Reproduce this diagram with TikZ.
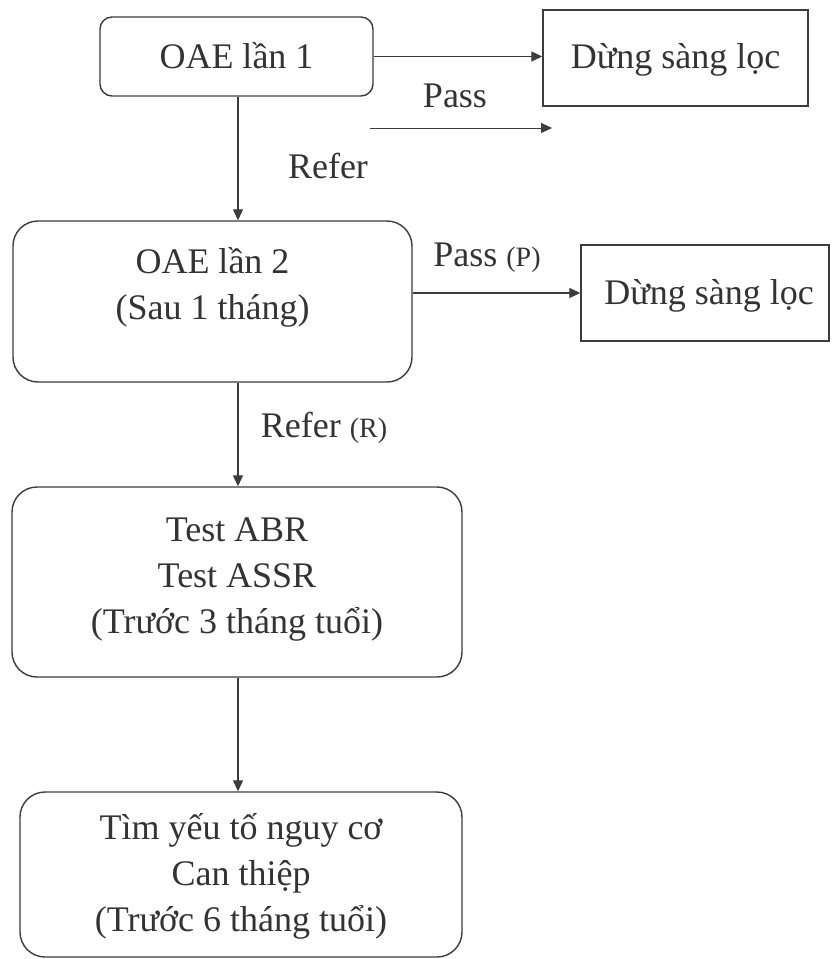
\documentclass[tikz,border=0pt]{standalone}
\usepackage{fontspec}
\setmainfont{Liberation Serif}
\usetikzlibrary{arrows.meta}
\definecolor{ink}{HTML}{333333}
\definecolor{linec}{HTML}{3C3C3C}
\newcommand\smallpar[1]{{\fontsize{28}{30}\selectfont #1}}
\begin{document}
\begin{tikzpicture}[x=1pt,y=-1pt,
  txt/.style={text=ink,font=\fontsize{36}{46}\selectfont,align=center,inner sep=0pt},
  rbox/.style={draw=linec,line width=1.4pt,rounded corners=25pt,inner sep=0pt},
  sbox/.style={draw=linec,line width=1.4pt,inner sep=0pt},
  arr/.style={draw=linec,line width=1.2pt,-{Triangle[length=11pt,width=10pt]}}]
\useasboundingbox[fill=white] (0,0) rectangle (831,959);
% boxes
\node[rbox,rounded corners=12pt,minimum width=273pt,minimum height=79pt] (oae1) at (236.5,56.5) {};
\node[txt] (oae1t) at (236.5,56) {OAE lần 1};
\node[sbox,minimum width=265pt,minimum height=96pt] (stop1) at (675.5,58) {};
\node[txt] (stop1t) at (675.5,60) {Dừng sàng lọc};
\node[rbox,minimum width=399pt,minimum height=161pt] (oae2) at (212.5,301.5) {};
\node[txt] (oae2t) at (212.5,287) {OAE lần 2\\(Sau 1 tháng)};
\node[sbox,minimum width=248pt,minimum height=96pt] (stop2) at (705,293) {};
\node[txt] (stop2t) at (709,296) {Dừng sàng lọc};
\node[rbox,minimum width=450pt,minimum height=190pt] (test) at (237,582) {};
\node[txt] (testt) at (237,579) {Test ABR\\Test ASSR\\(Trước 3 tháng tuổi)};
\node[rbox,minimum width=442pt,minimum height=165pt] (final) at (241,874.5) {};
\node[txt] (finalt) at (241,876) {Tìm yếu tố nguy cơ\\Can thiệp\\(Trước 6 tháng tuổi)};
% column coordinate
\coordinate (colx) at (238,0);
\coordinate (p0) at (370,128);
\coordinate (p1) at (552,128);
% connectors
\draw[arr] (oae1.east) -- (oae1.east -| stop1.west);
\draw[arr,line width=0.9pt] (p0) -- (p1);
\node[txt] (passl) at (455,96) {Pass};
\draw[arr] (oae1.south -| colx) -- (oae2.north -| colx);
\node[txt] (referl) at (328,166) {Refer};
\draw[arr] (stop2.west -| oae2.east) -- (stop2.west);
\node[txt] (passpl) at (487,258) {Pass \smallpar{(P)}};
\draw[arr] (oae2.south -| colx) -- (test.north -| colx);
\node[txt] (referrl) at (324,428) {Refer \smallpar{(R)}};
\draw[arr] (test.south -| colx) -- (final.north -| colx);
\end{tikzpicture}
\end{document}
